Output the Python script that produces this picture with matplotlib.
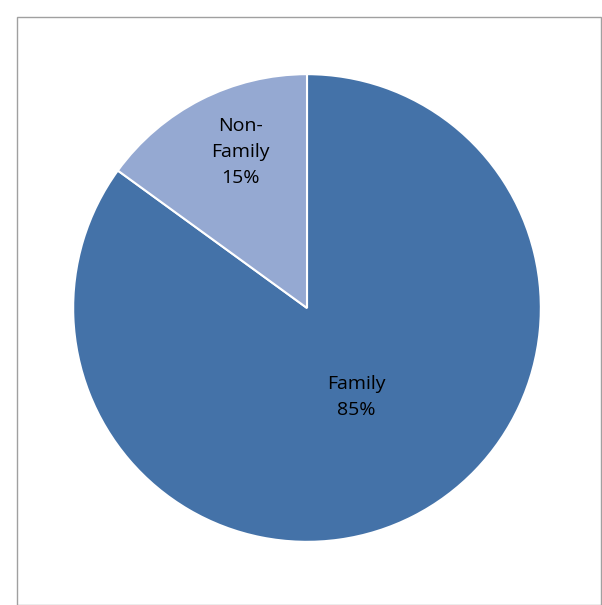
import matplotlib
matplotlib.use("Agg")
import matplotlib.pyplot as plt
from matplotlib.patches import Rectangle

labels = ["Family", "Non-\nFamily"]
values = [85, 15]
colors = ["#4472a8", "#95a9d2"]

fig = plt.figure(figsize=(6.02, 6.05), dpi=100)
fig.patches.append(Rectangle((17/602, 0), 1-17/602-1/602, 1-17/605, transform=fig.transFigure,
                             fill=False, edgecolor="#a0a0a0", linewidth=1))
ax = fig.add_axes([(307-235)/602, 1-(308+235)/605, 470/602, 470/605])
wedges, texts = ax.pie(values, colors=colors, startangle=90, counterclock=False,
                       wedgeprops=dict(edgecolor="white", linewidth=1.5))
ax.set_xlim(-1.005, 1.005)
ax.set_ylim(-1.005, 1.005)
centers = [(356, 397), (240, 152)]
for lab, v, (cx, cy) in zip(labels, values, centers):
    fig.text(cx/602, 1-cy/605, f"{lab}\n{v}%", ha="center", va="center",
             fontsize=14, family="Open Sans", linespacing=1.55, color="black")
fig.savefig("out.png", dpi=100)
